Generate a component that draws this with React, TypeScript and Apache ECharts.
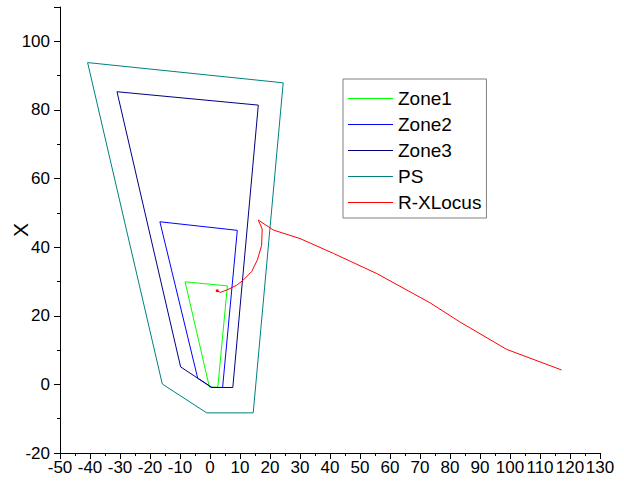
import React, { useEffect, useRef } from "react";
import * as echarts from "echarts";

const zone1: number[][] = [[-8.3, 29.9], [5.8, 28.7], [2.6, -0.8], [-0.2, -0.8], [-8.3, 29.9]];
const zone2: number[][] = [[-16.7, 47.4], [9.1, 44.9], [4.2, -0.9], [0.6, -0.9], [-4.1, 1.8], [-16.7, 47.4]];
const zone3: number[][] = [[-31.0, 85.3], [16.1, 81.4], [7.6, -0.9], [0.6, -0.9], [-9.8, 5.1], [-31.0, 85.3]];
const ps: number[][] = [[-40.8, 93.8], [24.4, 87.9], [14.4, -8.3], [-1.1, -8.3], [-15.9, 0.1], [-40.8, 93.8]];
const rxLocus: number[][] = [
  [2.4, 27.3], [3.4, 26.8], [5.6, 27.5], [8.9, 28.9], [11.1, 30.4], [13.9, 32.9],
  [15.8, 36.3], [17.2, 40.5], [17.4, 45.3], [16.1, 47.9], [21.1, 45.0], [30.0, 42.5],
  [41.1, 38.2], [55.6, 32.3], [73.3, 23.8], [83.3, 18.2], [98.9, 10.2], [117.2, 4.2],
];

const seriesNames = ["Zone1", "Zone2", "Zone3", "PS", "R-XLocus"];
const seriesColors = ["#00ff00", "#0000ff", "#000080", "#008080", "#ff0000"];

const yMajorLabels = ["-20", "0", "20", "40", "60", "80", "100"];

const FONT = "'Liberation Sans', Arial, sans-serif";

export default function App() {
  const ref = useRef<HTMLDivElement>(null);
  useEffect(() => {
    if (!ref.current) return;
    const chart = echarts.init(ref.current, null, { renderer: "svg" });
    const datasets = [zone1, zone2, zone3, ps];
    const series: any[] = datasets.map((d, i) => ({
      name: seriesNames[i],
      type: "line",
      data: d,
      symbol: "none",
      showSymbol: false,
      color: seriesColors[i],
      itemStyle: { color: seriesColors[i] },
      lineStyle: { width: 1, color: seriesColors[i] },
      z: 2 + i,
    }));
    series.push({
      name: seriesNames[4],
      type: "line",
      data: rxLocus.map((p, i) =>
        i === 0 ? { value: p, symbol: "circle", symbolSize: 3 } : { value: p }
      ),
      symbol: "none",
      showSymbol: true,
      color: seriesColors[4],
      itemStyle: { color: seriesColors[4] },
      lineStyle: { width: 1, color: seriesColors[4] },
      z: 10,
    });

    chart.setOption({
      animation: false,
      backgroundColor: "#ffffff",
      textStyle: { fontFamily: FONT },
      grid: { left: 60, right: 24, top: 7, bottom: 36, containLabel: false, outerBoundsMode: "none" },
      legend: {
        orient: "vertical",
        left: 343,
        top: 79,
        data: seriesNames.map((n, i) => ({
          name: n,
          icon: "rect",
          itemStyle: { color: seriesColors[i], borderWidth: 0 },
        })),
        itemWidth: 45,
        itemHeight: 1,
        itemGap: 7,
        padding: [10, 5, 6, 5],
        borderColor: "#808080",
        borderWidth: 1,
        backgroundColor: "#ffffff",
        textStyle: { fontSize: 19, color: "#000", fontFamily: FONT, lineHeight: 18 },
      },
      xAxis: {
        type: "value",
        min: -50,
        max: 130,
        interval: 10,
        axisLine: { show: true, onZero: false, lineStyle: { color: "#000", width: 1 } },
        axisTick: { show: true, length: 6, lineStyle: { color: "#000" } },
        minorTick: { show: true, splitNumber: 2, length: 3, lineStyle: { color: "#000" } },
        axisLabel: { fontSize: 17, color: "#000", margin: 6, fontFamily: FONT },
        splitLine: { show: false },
      },
      yAxis: [
        {
          type: "value",
          min: -20,
          max: 110,
          interval: 20,
          position: "left",
          name: "X",
          nameLocation: "middle",
          nameGap: 29,
          nameRotate: 90,
          nameMoveOverlap: false,
          nameTextStyle: { fontSize: 21, color: "#000", fontFamily: FONT },
          axisLine: { show: true, onZero: false, lineStyle: { color: "#000", width: 1 } },
          axisTick: { show: true, length: 6, lineStyle: { color: "#000" } },
          axisLabel: {
            fontSize: 17,
            color: "#000",
            margin: 10,
            fontFamily: FONT,
            formatter: (v: number) => (yMajorLabels.indexOf(String(v)) >= 0 ? String(v) : ""),
          },
          splitLine: { show: false },
        },
        {
          type: "value",
          min: -20,
          max: 110,
          interval: 10,
          position: "left",
          axisLine: { show: false, onZero: false },
          axisTick: { show: true, length: 3, lineStyle: { color: "#000" } },
          axisLabel: { show: false },
          splitLine: { show: false },
        },
      ],
      series,
    });
    return () => chart.dispose();
  }, []);
  return (
    <div
      ref={ref}
      style={{ position: "fixed", left: 0, top: 0, width: 624, height: 489, background: "#fff" }}
    />
  );
}
